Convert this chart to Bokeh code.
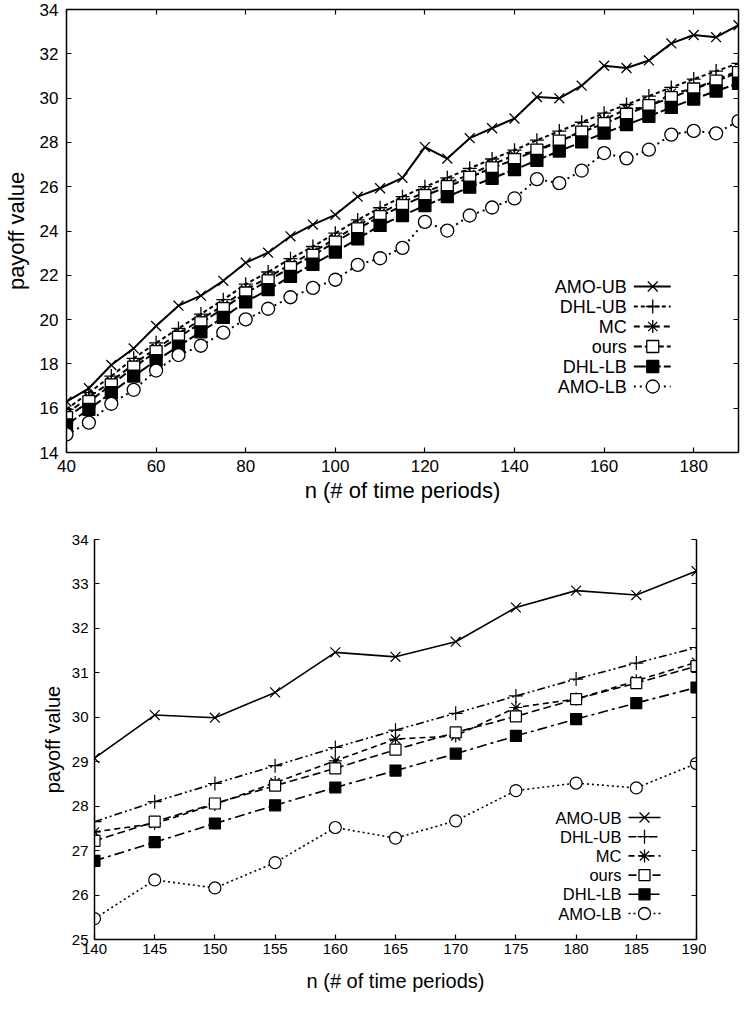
from bokeh.plotting import figure
from bokeh.models import LinearAxis, FixedTicker, Range1d
from bokeh.embed import file_html
from bokeh.resources import INLINE
from bokeh.core.properties import value

# ---------------- data ----------------
n_periods = [40, 45, 50, 55, 60, 65, 70, 75, 80, 85, 90, 95, 100, 105, 110, 115,
             120, 125, 130, 135, 140, 145, 150, 155, 160, 165, 170, 175, 180, 185, 190]
amo_ub = [16.30, 16.90, 17.95, 18.70, 19.71, 20.63, 21.08, 21.75, 22.57, 23.02, 23.76,
          24.29, 24.73, 25.55, 25.93, 26.40, 27.79, 27.27, 28.19, 28.64, 29.08, 30.05,
          29.99, 30.56, 31.46, 31.36, 31.70, 32.47, 32.85, 32.75, 33.29]
dhl_ub = [15.95, 16.70, 17.45, 18.25, 18.95, 19.60, 20.25, 20.90, 21.60, 22.15, 22.75,
          23.30, 23.90, 24.50, 25.05, 25.55, 26.00, 26.40, 26.83, 27.25, 27.65, 28.10,
          28.51, 28.91, 29.32, 29.71, 30.09, 30.48, 30.86, 31.22, 31.57]
mc = [15.75, 16.50, 17.20, 18.00, 18.70, 19.35, 20.00, 20.65, 21.35, 21.90, 22.50,
      23.05, 23.65, 24.25, 24.80, 25.30, 25.75, 26.15, 26.55, 27.00, 27.42, 27.61,
      28.04, 28.53, 29.02, 29.51, 29.58, 30.22, 30.41, 30.82, 31.24]
ours = [15.57, 16.30, 17.05, 17.85, 18.55, 19.20, 19.85, 20.50, 21.20, 21.75, 22.35,
        22.90, 23.50, 24.10, 24.65, 25.15, 25.60, 26.00, 26.42, 26.85, 27.22, 27.65,
        28.06, 28.46, 28.85, 29.27, 29.66, 30.02, 30.41, 30.77, 31.15]
dhl_lb = [15.25, 15.95, 16.70, 17.45, 18.15, 18.80, 19.45, 20.10, 20.80, 21.35, 21.95,
          22.50, 23.05, 23.65, 24.25, 24.70, 25.15, 25.55, 25.98, 26.38, 26.77, 27.19,
          27.61, 28.02, 28.42, 28.80, 29.18, 29.58, 29.96, 30.32, 30.67]
amo_lb = [14.82, 15.35, 16.20, 16.83, 17.70, 18.40, 18.82, 19.41, 20.01, 20.49, 21.01,
          21.43, 21.80, 22.47, 22.77, 23.24, 24.41, 24.02, 24.70, 25.06, 25.47, 26.34,
          26.16, 26.73, 27.52, 27.28, 27.67, 28.35, 28.52, 28.41, 28.96]

series_names = ["AMO-UB", "DHL-UB", "MC", "ours", "DHL-LB", "AMO-LB"]
series_values = [amo_ub, dhl_ub, mc, ours, dhl_lb, amo_lb]

top_xticks = [40, 60, 80, 100, 120, 140, 160, 180]
top_yticks = [14, 16, 18, 20, 22, 24, 26, 28, 30, 32, 34]
bot_xticks = [140, 145, 150, 155, 160, 165, 170, 175, 180, 185, 190]
bot_yticks = [25, 26, 27, 28, 29, 30, 31, 32, 33, 34]

x_title = "n (# of time periods)"
y_title = "payoff value"

# ---------------- styles ----------------
FONT = "Liberation Sans"
markers = ["x", "cross", "asterisk", "square", "square", "circle"]
fills = [None, None, None, "white", "black", "white"]
top_dash = ["solid", "4 3", "6 4", "8 3", "12 3", "2 4"]
bot_dash = ["solid", "8 3 2 3 2 3", "6 4", "8 4", "10 4 3 4", "2 3"]
top_msize = [14, 14, 13, 12, 12, 13]
bot_msize = [14, 14, 13, 11, 11, 12]


def style_axis(ax, tick_font, standoff, title_font, title_standoff):
    ax.major_tick_in = 5
    ax.major_tick_out = 0
    ax.minor_tick_in = 0
    ax.minor_tick_out = 0
    ax.major_tick_line_color = "black"
    ax.major_tick_line_width = 1.2
    ax.axis_line_color = "black"
    ax.axis_line_width = 1.5
    ax.major_label_text_font = FONT
    ax.major_label_text_font_size = tick_font
    ax.major_label_text_color = "black"
    ax.major_label_standoff = standoff
    ax.axis_label_text_font = FONT
    ax.axis_label_text_font_size = title_font
    ax.axis_label_text_font_style = "normal"
    ax.axis_label_text_color = "black"
    ax.axis_label_standoff = title_standoff


def mirror_axis(p, side, ticks):
    ax = LinearAxis(ticker=FixedTicker(ticks=ticks))
    ax.major_tick_in = 5
    ax.major_tick_out = 0
    ax.minor_tick_in = 0
    ax.minor_tick_out = 0
    ax.major_tick_line_color = "black"
    ax.major_tick_line_width = 1.2
    ax.axis_line_color = "black"
    ax.axis_line_width = 1.5
    ax.major_label_text_color = None
    ax.major_label_text_font_size = "2px"
    ax.major_label_standoff = 0
    p.add_layout(ax, side)
    return ax


def draw_legend(p, fx0, fx1, fy0, fy1, X0, X1, Y0, Y1,
                text_right_px, seg_px, mark_px, row0_px, row_step_px,
                font_size, dashes, msizes, lw):
    # convert legend pixel layout to data coordinates of this frame
    def px2x(px):
        return X0 + (px - fx0) * (X1 - X0) / (fx1 - fx0)

    def px2y(py):
        return Y1 - (py - fy0) * (Y1 - Y0) / (fy1 - fy0)

    for i, name in enumerate(series_names):
        yy = px2y(row0_px + i * row_step_px)
        p.text(x=[px2x(text_right_px)], y=[yy], text=[name],
               text_align="right", text_baseline="middle",
               text_font=value(FONT), text_font_size=value(font_size),
               text_color="black")
        p.segment(x0=[px2x(seg_px[0])], y0=[yy], x1=[px2x(seg_px[1])], y1=[yy],
                  line_color="black", line_width=lw, line_dash=dashes[i])
        p.scatter(x=[px2x(mark_px)], y=[yy], marker=markers[i], size=msizes[i],
                  line_color="black", line_width=1.3,
                  fill_color=fills[i] if fills[i] else None)


# ---------------- top chart ----------------
# frame: x 72..746 px, y 17..460 px (page coordinates)
p1 = figure(width=740, height=522, x_range=Range1d(40, 190), y_range=Range1d(14, 34),
            output_backend="svg", toolbar_location=None,
            min_border_left=64, min_border_right=2, min_border_top=9, min_border_bottom=70)
p1.grid.visible = False
p1.outline_line_color = None
p1.background_fill_color = "white"
p1.border_fill_color = "white"
p1.xaxis.ticker = FixedTicker(ticks=top_xticks)
p1.yaxis.ticker = FixedTicker(ticks=top_yticks)
p1.xaxis.axis_label = x_title
p1.yaxis.axis_label = y_title
style_axis(p1.xaxis[0], "17px", 7, "22px", 3)
style_axis(p1.yaxis[0], "17px", 8, "22px", 8)
mirror_axis(p1, "above", top_xticks)
mirror_axis(p1, "right", top_yticks)

for i, vals in enumerate(series_values):
    p1.line(n_periods, vals, line_color="black", line_width=2, line_dash=top_dash[i])
for i, vals in enumerate(series_values):
    p1.scatter(n_periods, vals, marker=markers[i], size=top_msize[i],
               line_color="black", line_width=1.3,
               fill_color=fills[i] if fills[i] else None)

draw_legend(p1, 72, 746, 17, 460, 40, 190, 14, 34,
            634, (641, 678), 660, 294, 20, "18px", top_dash, top_msize, 2)

# ---------------- bottom chart (zoom 140..190) ----------------
sel = [k for k, n in enumerate(n_periods) if n >= 140]
n_zoom = [n_periods[k] for k in sel]

p2 = figure(width=706, height=474, x_range=Range1d(140, 190), y_range=Range1d(25, 34),
            output_backend="svg", toolbar_location=None,
            min_border_left=94, min_border_right=10, min_border_top=17, min_border_bottom=57)
p2.grid.visible = False
p2.outline_line_color = None
p2.background_fill_color = "white"
p2.border_fill_color = "white"
p2.xaxis.ticker = FixedTicker(ticks=bot_xticks)
p2.yaxis.ticker = FixedTicker(ticks=bot_yticks)
p2.xaxis.axis_label = x_title
p2.yaxis.axis_label = y_title
style_axis(p2.xaxis[0], "15px", 4, "20px", 13)
style_axis(p2.yaxis[0], "15px", 6, "20px", 5)
mirror_axis(p2, "right", bot_yticks)

for i, vals in enumerate(series_values):
    vz = [vals[k] for k in sel]
    p2.line(n_zoom, vz, line_color="black", line_width=1.6, line_dash=bot_dash[i])
for i, vals in enumerate(series_values):
    vz = [vals[k] for k in sel]
    p2.scatter(n_zoom, vz, marker=markers[i], size=bot_msize[i],
               line_color="black", line_width=1.2,
               fill_color=fills[i] if fills[i] else None)

draw_legend(p2, 102, 704, 547, 947, 140, 190, 25, 34,
            629, (636, 668), 652, 825, 19.2, "16.5px", bot_dash, bot_msize, 1.6)

open("out.html", "w").write(file_html([p1, p2], INLINE))
